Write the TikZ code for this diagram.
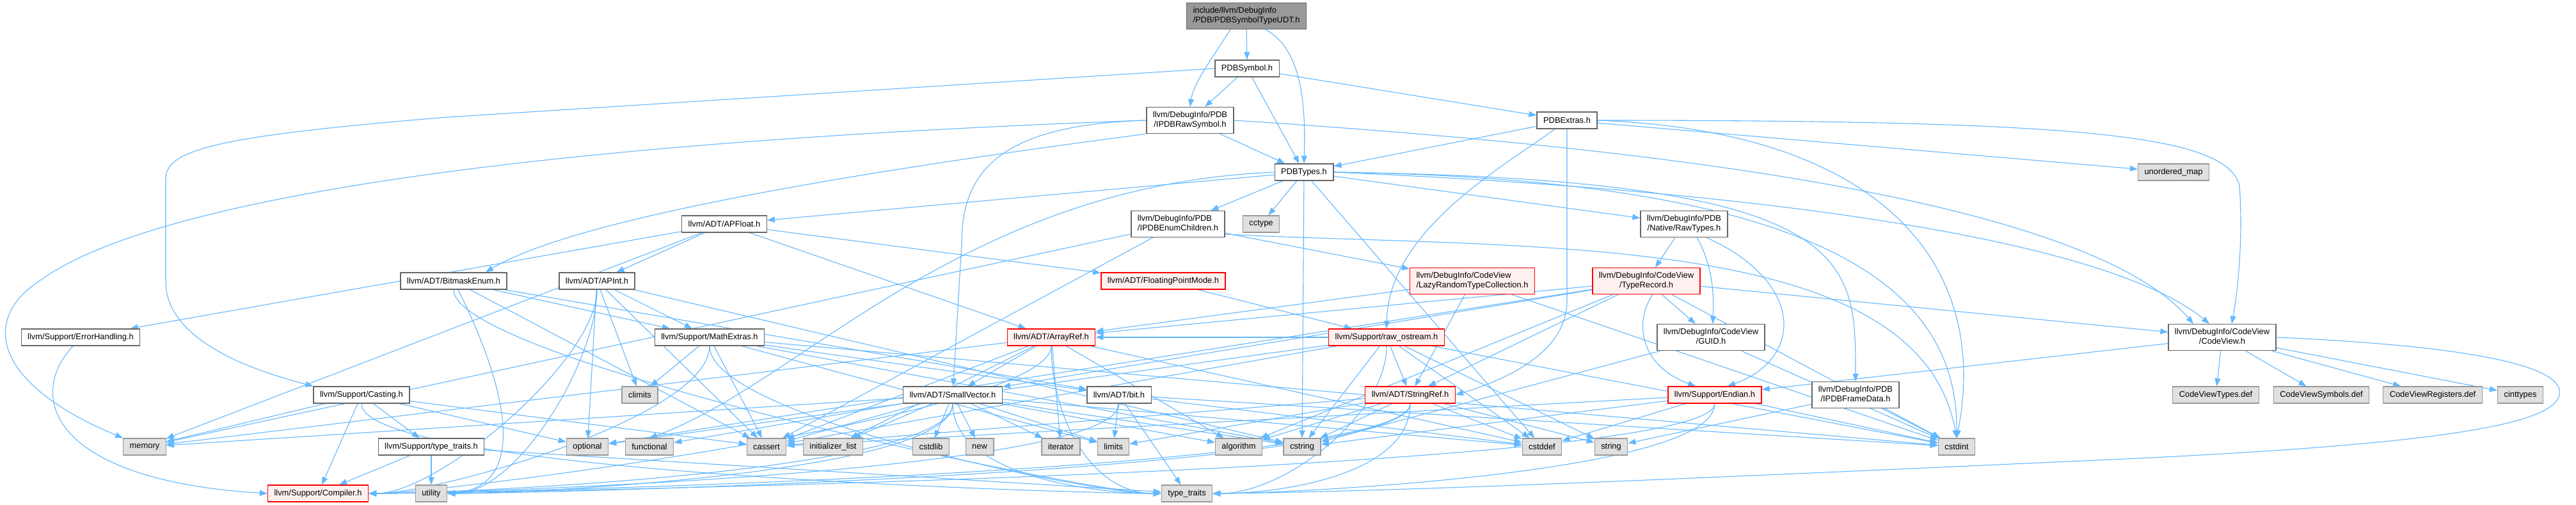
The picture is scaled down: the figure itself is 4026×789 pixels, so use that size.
\documentclass[tikz,border=0pt]{standalone}
\usepackage{fontspec}
\usepackage{tikz}
\usetikzlibrary{arrows.meta, backgrounds}
\newfontfamily\graphfont{Liberation Sans}
\definecolor{edgeBlue}{HTML}{63B8FF}
\definecolor{boxGray}{HTML}{666666}
\definecolor{sysGray}{HTML}{999999}
\definecolor{sysFill}{HTML}{E0E0E0}
\definecolor{truncRed}{HTML}{FF0000}
\definecolor{truncFill}{HTML}{FFF0F0}
\definecolor{rootFill}{HTML}{999999}
\newcommand{\twolbl}[2]{\begin{tabular}{@{}l@{}}#1\\\multicolumn{1}{@{}c@{}}{#2}\end{tabular}}

\begin{document}
\begin{tikzpicture}[x=1pt, y=-1pt,
    file/.style={draw=boxGray, fill=white, line width=1.3pt, inner xsep=10pt, inner ysep=0pt,
        minimum height=26pt, font=\graphfont\fontsize{12.9}{15}\selectfont},
    twoline/.style={minimum height=41pt},
    sysfile/.style={file, draw=sysGray, fill=sysFill},
    truncfile/.style={file, draw=truncRed, fill=truncFill},
    mainfile/.style={file, fill=rootFill},
    inc/.style={draw=edgeBlue, line width=1.1pt, -{Triangle[length=12pt, width=9pt]}}]
    \useasboundingbox (0,0) rectangle (4026,789);

    % upper ranks
    \node[mainfile, twoline] (rt) at (1948,25) {\twolbl{include/llvm/DebugInfo}{/PDB/PDBSymbolTypeUDT.h}};
    \node[file] (pdbsym) at (1949,107) {PDBSymbol.h};
    \node[file, twoline] (rawsym) at (1860,188) {\twolbl{llvm/DebugInfo/PDB}{/IPDBRawSymbol.h}};
    \node[file] (extras) at (2449,188) {PDBExtras.h};
    \node[file] (types) at (2038,269) {PDBTypes.h};
    \node[sysfile] (umap) at (3397,269) {unordered\_map};
    \node[file] (apfloat) at (1132,350) {llvm/ADT/APFloat.h};
    \node[file, twoline] (enumch) at (1841,350) {\twolbl{llvm/DebugInfo/PDB}{/IPDBEnumChildren.h}};
    \node[sysfile] (cctype) at (1971,350) {cctype};
    \node[file, twoline] (rawtypes) at (2632,350) {\twolbl{llvm/DebugInfo/PDB}{/Native/RawTypes.h}};

    % middle ranks
    \node[file] (bitmask) at (709,439) {llvm/ADT/BitmaskEnum.h};
    \node[file] (apint) at (933,439) {llvm/ADT/APInt.h};
    \node[truncfile] (fpmode) at (1818,439) {llvm/ADT/FloatingPointMode.h};
    \node[truncfile, twoline] (lazyrtc) at (2301,439) {\twolbl{llvm/DebugInfo/CodeView}{/LazyRandomTypeCollection.h}};
    \node[truncfile, twoline] (typerec) at (2573,439) {\twolbl{llvm/DebugInfo/CodeView}{/TypeRecord.h}};
    \node[file] (errh) at (126,527) {llvm/Support/ErrorHandling.h};
    \node[file] (mathx) at (1109,527) {llvm/Support/MathExtras.h};
    \node[truncfile] (arrayref) at (1643,527) {llvm/ADT/ArrayRef.h};
    \node[truncfile] (rawos) at (2167,527) {llvm/Support/raw\_ostream.h};
    \node[file, twoline] (guid) at (2674,527) {\twolbl{llvm/DebugInfo/CodeView}{/GUID.h}};
    \node[file, twoline] (codeview) at (3473,527) {\twolbl{llvm/DebugInfo/CodeView}{/CodeView.h}};
    \node[file] (casting) at (565,617) {llvm/Support/Casting.h};
    \node[sysfile] (climits) at (1000,617) {climits};
    \node[file] (smallvec) at (1489,617) {llvm/ADT/SmallVector.h};
    \node[file] (bit) at (1749,617) {llvm/ADT/bit.h};
    \node[truncfile] (stringref) at (2204,617) {llvm/ADT/StringRef.h};
    \node[truncfile] (endian) at (2680,617) {llvm/Support/Endian.h};
    \node[file, twoline] (framedata) at (2900,617) {\twolbl{llvm/DebugInfo/PDB}{/IPDBFrameData.h}};
    \node[sysfile] (cvtypes) at (3463,617) {CodeViewTypes.def};
    \node[sysfile] (cvsyms) at (3628,617) {CodeViewSymbols.def};
    \node[sysfile] (cvregs) at (3802,617) {CodeViewRegisters.def};
    \node[sysfile] (cinttypes) at (3939,617) {cinttypes};

    % bottom ranks
    \node[sysfile] (memory) at (226,698) {memory};
    \node[file] (ttraitsh) at (674,698) {llvm/Support/type\_traits.h};
    \node[sysfile] (optional) at (918,698) {optional};
    \node[sysfile] (functional) at (1015,698) {functional};
    \node[sysfile] (cassert) at (1198,698) {cassert};
    \node[sysfile] (initlist) at (1302,698) {initializer\_list};
    \node[sysfile] (cstdlib) at (1455,698) {cstdlib};
    \node[sysfile] (new) at (1531,698) {new};
    \node[sysfile] (iterator) at (1658,698) {iterator};
    \node[sysfile] (limits) at (1740,698) {limits};
    \node[sysfile] (algorithm) at (1936,698) {algorithm};
    \node[sysfile] (cstring) at (2035,698) {cstring};
    \node[sysfile] (cstddef) at (2410,698) {cstddef};
    \node[sysfile] (string) at (2518,698) {string};
    \node[sysfile] (cstdint) at (3058,698) {cstdint};
    \node[truncfile] (compiler) at (497,771) {llvm/Support/Compiler.h};
    \node[sysfile] (utility) at (674,771) {utility};
    \node[sysfile] (ttraits) at (1855,771) {type\_traits};

    \begin{scope}[on background layer]
    \fill[white] (0,0) rectangle (4026,789);

    \foreach \a/\b in {rt/pdbsym, pdbsym/rawsym, pdbsym/types, pdbsym/extras, rawsym/types,
        extras/types, extras/umap, types/apfloat, types/enumch, types/cctype, types/rawtypes,
        types/cstring, types/cstddef, enumch/cassert, enumch/memory, enumch/lazyrtc,
        apfloat/apint, apfloat/arrayref, apfloat/fpmode, apfloat/errh, apfloat/memory, fpmode/rawos,
        bitmask/bit, bitmask/mathx, bitmask/cassert, apint/mathx, apint/climits, apint/optional,
        apint/cassert, apint/cstring, mathx/bit, mathx/cassert, mathx/climits, mathx/cstdint,
        mathx/cstring, mathx/limits, casting/compiler, casting/ttraitsh, casting/memory,
        casting/optional, casting/cassert, ttraitsh/compiler, ttraitsh/utility, ttraitsh/ttraits,
        arrayref/smallvec, arrayref/iterator, arrayref/algorithm, arrayref/memory, arrayref/cassert,
        arrayref/cstddef, arrayref/initlist, smallvec/algorithm, smallvec/cassert, smallvec/cstddef,
        smallvec/cstdlib, smallvec/cstring, smallvec/functional, smallvec/initlist, smallvec/iterator,
        smallvec/limits, smallvec/memory, smallvec/new, bit/cstddef, bit/cstdint, bit/limits,
        bit/ttraits, rawos/arrayref, rawos/stringref, rawos/cassert, rawos/cstddef, rawos/cstdint,
        rawos/cstring, rawos/optional, rawos/string, stringref/algorithm, stringref/cassert,
        stringref/cstddef, stringref/cstring, stringref/limits, stringref/string, lazyrtc/arrayref,
        lazyrtc/stringref, lazyrtc/cstdint, typerec/arrayref, typerec/smallvec, typerec/stringref,
        typerec/codeview, typerec/guid, typerec/algorithm, typerec/cstdint, typerec/optional,
        rawtypes/typerec, guid/cstdint, guid/cstring, endian/cassert, endian/cstddef,
        endian/cstdint, endian/cstring, framedata/cstdint, framedata/string, codeview/cvtypes,
        codeview/cvsyms, codeview/cvregs, codeview/cinttypes, codeview/endian}
        \draw[inc] (\a) -- (\b);

    % edges that run along the bottom
    \foreach \a/\b in {apint/compiler, mathx/compiler, arrayref/compiler, smallvec/compiler,
        bit/compiler, stringref/compiler, endian/compiler, apint/utility, smallvec/utility,
        stringref/utility, stringref/ttraits, rawos/ttraits, endian/ttraits}
        \draw[inc] (\a.south) .. controls ([yshift=-110pt]\a.south) and ([xshift=110pt]\b.east) .. (\b.east);
    \foreach \a/\b in {bitmask/ttraits, mathx/ttraits, casting/ttraits, arrayref/ttraits, smallvec/ttraits}
        \draw[inc] (\a.south) .. controls ([yshift=-110pt]\a.south) and ([xshift=-110pt]\b.west) .. (\b.west);

    \draw[inc] ([xshift=-25pt]rt.south) .. controls (1895,90) and (1865,130) .. (rawsym.north);
    \draw[inc] ([xshift=30pt]rt.south) .. controls (2040,80) and (2040,180) .. (types.north);
    \draw[inc] (pdbsym.west) -- (700,183) .. controls (330,213) and (259,235) .. (259,280)
        -- (259,440) .. controls (259,540) and (420,585) .. (casting.north west);
    \draw[inc] (rawsym.west) .. controls (900,220) and (250,300) .. (60,440)
        .. controls (-30,500) and (-10,600) .. (memory.north west);
    \draw[inc] (rawsym.west) .. controls (1560,195) and (1503,270) .. (1503,380) -- (smallvec);
    \draw[inc] (rawsym.south west) .. controls (1350,267) and (900,340) .. ([xshift=50pt]bitmask.north);
    \draw[inc] (rawsym.east) .. controls (2500,225) and (3250,300) .. ([xshift=-45pt]codeview.north);
    \draw[inc] (types.east) .. controls (2800,300) and (3300,380) .. ([xshift=-20pt]codeview.north);
    \draw[inc] (types.east) .. controls (2900,280) and (2900,400) .. (framedata.north);
    \draw[inc] (types.east) .. controls (2850,280) and (3060,450) .. (cstdint.north);
    \draw[inc] (types.west) .. controls (1500,290) and (1250,600) .. (functional.north);
    \draw[inc] (extras.east) .. controls (3250,188) and (3480,210) .. (3500,290)
        .. controls (3505,360) and (3500,440) .. ([xshift=15pt]codeview.north);
    \draw[inc] (extras) .. controls (2350,260) and (2170,360) .. (rawos.north);
    \draw[inc] (extras.south) -- (2449,470) .. controls (2449,560) and (2330,600) .. (stringref.east);
    \draw[inc] (extras.east) .. controls (2950,205) and (3110,420) .. (cstdint.north);
    \draw[inc] ([yshift=-16pt]enumch.east) .. controls (2400,390) and (3000,360) .. (cstdint.north);
    \draw[inc] ([xshift=-12pt]errh.south) .. controls (40,620) and (80,750) .. (compiler.west);
    \draw[inc] (bitmask) .. controls (790,600) and (830,760) .. (utility.east);
    \draw[inc] ([xshift=20pt]rawtypes.south) .. controls (2680,420) and (2678,470) .. ([xshift=3pt]guid.north);
    \draw[inc] ([xshift=35pt]rawtypes.south) .. controls (2820,440) and (2820,560) .. ([xshift=20pt]endian.north);
    \draw[inc] ([xshift=10pt]typerec.south) .. controls (2555,500) and (2560,570) .. ([xshift=-30pt]endian.north);
    \draw[inc] (codeview.east) .. controls (3850,540) and (4010,570) .. (4000,617)
        .. controls (3990,665) and (3800,695) .. (3300,718)
        .. controls (2700,745) and (2200,768) .. (ttraits.east);
    \end{scope}
\end{tikzpicture}
\end{document}
